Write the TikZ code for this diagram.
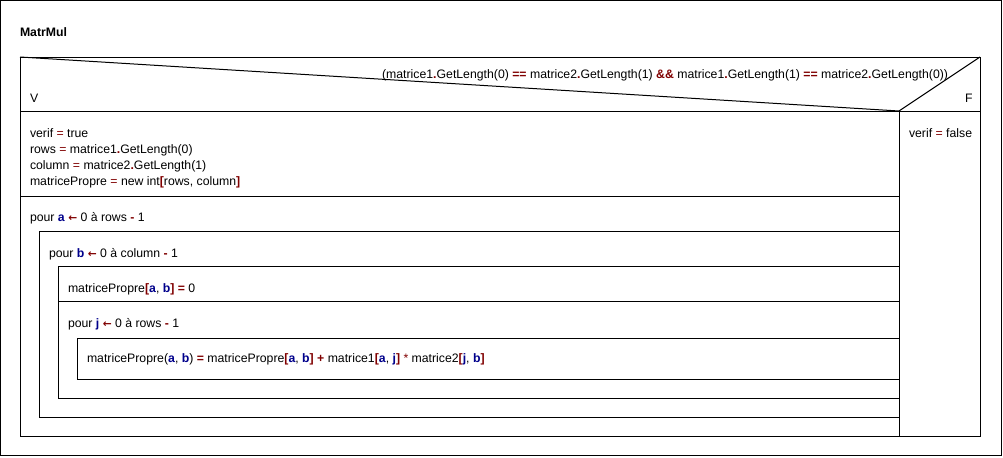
\documentclass[tikz,border=0pt]{standalone}
\usepackage{fontspec}
\setmainfont{Liberation Sans}
\newfontfamily\arrowfont{DejaVu Sans}
\definecolor{opred}{RGB}{128,0,0}
\definecolor{varblue}{RGB}{0,0,139}
\newcommand{\opr}[1]{\textcolor{opred}{\textbf{#1}}}
\newcommand{\opn}[1]{\textcolor{opred}{#1}}
\newcommand{\vrb}[1]{\textcolor{varblue}{\textbf{#1}}}
\newcommand{\larr}{\textcolor{opred}{{\arrowfont\fontsize{8}{10}\selectfont\textbf{←}}}}
\begin{document}
\begin{tikzpicture}[x=0.75pt,y=-0.75pt,
  every node/.style={inner sep=0pt,outer sep=0pt},
  txt/.style={anchor=base west,font=\fontsize{9.2}{11}\selectfont},
  txte/.style={anchor=base east,font=\fontsize{9.2}{11}\selectfont},
  ttl/.style={anchor=base west,font=\fontsize{9.2}{11}\selectfont\bfseries},
  ln/.style={line width=0.75pt,black}]
\useasboundingbox (0,0) rectangle (1003,457);
% outer frame
\draw[ln] (0.5,0.5) rectangle (1001.5,455.5);
\node[ttl] (title) at (20,36) {MatrMul};
% main box
\draw[ln] (20,57) rectangle (980,436);
% condition
\draw[ln] (20,111) -- (980,111);
\draw[ln] (20,57) -- (899,111) -- (980,57);
\draw[ln] (899,111) -- (899,436);
\node[txte] (cond) at (948,78) {(matrice1\opr{.}GetLength(0) \opr{==} matrice2\opr{.}GetLength(1) \opr{\&\&} matrice1\opr{.}GetLength(1) \opr{==} matrice2\opr{.}GetLength(0))};
\node[txt] (v) at (30,102) {V};
\node[txt] (f) at (965,102) {F};
% false branch
\node[txt] (vf) at (909,137) {verif \opn{=} false};
% block 1
\node[txt] (l1) at (30,137) {verif \opn{=} true};
\node[txt] (l2) at (30,153) {rows \opn{=} matrice1\opr{.}GetLength(0)};
\node[txt] (l3) at (30,169) {column \opn{=} matrice2\opr{.}GetLength(1)};
\node[txt] (l4) at (30,185) {matricePropre \opn{=} new int\opr{[}rows, column\opr{]}};
\draw[ln] (20,196) -- (899,196);
% loop a
\node[txt] (la) at (30,221) {pour \vrb{a} \larr{} 0 à rows \opr{-} 1};
\draw[ln] (39,231) -- (899,231);
\draw[ln] (39,231) -- (39,417) -- (899,417);
% loop b
\node[txt] (lb) at (49,257) {pour \vrb{b} \larr{} 0 à column \opr{-} 1};
\draw[ln] (58,266) -- (899,266);
\draw[ln] (58,266) -- (58,398) -- (899,398);
\node[txt] (as) at (68,292) {matricePropre\opr{[}\vrb{a}, \vrb{b}\opr{]} \opr{=} 0};
\draw[ln] (58,301) -- (899,301);
% loop j
\node[txt] (lj) at (68,327) {pour \vrb{j} \larr{} 0 à rows \opr{-} 1};
\draw[ln] (77,338) -- (899,338);
\draw[ln] (77,338) -- (77,379) -- (899,379);
\node[txt] (body) at (87,362) {matricePropre(\vrb{a}, \vrb{b}) \opr{=} matricePropre\opr{[}\vrb{a}, \vrb{b}\opr{]} \opr{+} matrice1\opr{[}\vrb{a}, \vrb{j}\opr{]} \opn{*} matrice2\opr{[}\vrb{j}, \vrb{b}\opr{]}};
\end{tikzpicture}
\end{document}
